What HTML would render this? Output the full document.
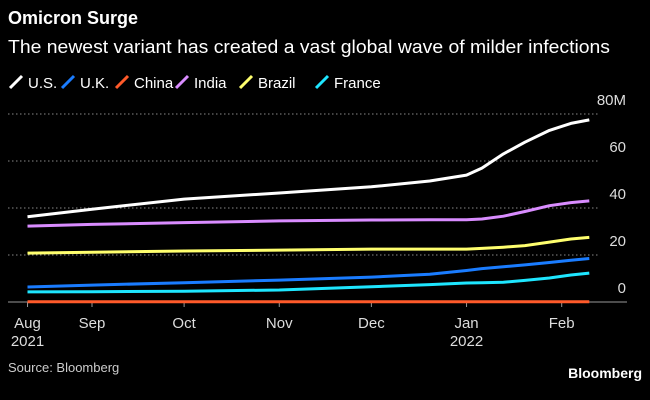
<!DOCTYPE html>
<html><head><meta charset="utf-8"><style>
body{margin:0;background:#000;width:650px;height:400px;overflow:hidden;font-family:"Liberation Sans",sans-serif;color:#fff}
svg{position:absolute;left:0;top:0}
</style></head><body>
<svg width="650" height="400">
<text x="8" y="24" font-size="18" font-weight="bold" fill="#fff">Omicron Surge</text>
<text x="8" y="53" font-size="18" textLength="602" lengthAdjust="spacingAndGlyphs" fill="#fff">The newest variant has created a vast global wave of milder infections</text>
<g id="legend"></g>
<g id="grid"></g>
<g id="xaxis"></g>
<g id="series"></g>
<text x="8" y="372" font-size="13" fill="#ccc">Source: Bloomberg</text>
<text x="642" y="378" font-size="14" font-weight="bold" text-anchor="end" fill="#fff">Bloomberg</text>
</svg>
<script>
const seriesNames=["U.S.","U.K.","China","India","Brazil","France"];
const seriesColors=["#ffffff","#1a7cff","#ff5a2a","#d98cff","#ffff6e","#1ee6ff"];
const days=[10,31,61,92,122,141,153,158,165,172,180,187,193];
const usVals=[36.3,39.5,43.8,46.4,49,51.5,54,57,63,68,73,76,77.5];
const ukVals=[6.4,7.2,8.2,9.3,10.6,11.8,13.4,14.2,15,15.8,16.8,17.8,18.5];
const chinaVals=[0.1,0.1,0.1,0.1,0.1,0.1,0.1,0.1,0.1,0.1,0.1,0.1,0.1];
const indiaVals=[32.3,33,33.8,34.5,34.9,35,35,35.3,36.5,38.5,41,42.3,43];
const brazilVals=[20.8,21.2,21.7,22.1,22.5,22.5,22.5,22.8,23.3,24,25.5,26.8,27.5];
const franceVals=[4.3,4.4,4.6,5.1,6.5,7.4,8.1,8.2,8.4,9.2,10.2,11.5,12.3];
const yTicks=[0,20,40,60,80];
const yTickLabels=["0","20","40","60","80M"];
const xTickDays=[10,31,61,92,122,153,184];
const xTickLabels=["Aug","Sep","Oct","Nov","Dec","Jan","Feb"];
const xTickYears=["2021","","","","","2022",""];
const allVals=[usVals,ukVals,chinaVals,indiaVals,brazilVals,franceVals];
const ns="http://www.w3.org/2000/svg";
const X=d=>92+(d-31)*3.07;
const Y=v=>302-v*47/20;
function mk(t,a,p){const e=document.createElementNS(ns,t);for(const k in a)e.setAttribute(k,a[k]);p.appendChild(e);return e;}
const grid=document.getElementById('grid');
yTicks.forEach((v,i)=>{
  if(v>0){const l=mk('line',{x1:8,x2:598,y1:Y(v),y2:Y(v),stroke:'#888','stroke-width':1,'stroke-dasharray':'1.5,2.5'},grid);
  
  }
  const t=mk('text',{x:626,y:Y(v)-9,'font-size':15,'text-anchor':'end',fill:'#ddd'},grid);
  t.textContent=yTickLabels[i];
  
  
});
const xa=document.getElementById('xaxis');
const ax=mk('line',{x1:8,x2:627,y1:302,y2:302,stroke:'#999','stroke-width':1},xa);


xTickDays.forEach((d,i)=>{
  mk('line',{x1:X(d),x2:X(d),y1:302,y2:307,stroke:'#999'},xa);
  const t=mk('text',{x:X(d),y:328,'font-size':15,'text-anchor':'middle',fill:'#ddd'},xa);
  t.textContent=xTickLabels[i];
  
  
  if(xTickYears[i]){const y=mk('text',{x:X(d),y:346,'font-size':15,'text-anchor':'middle',fill:'#ddd'},xa);
  y.textContent=xTickYears[i];
  
  }
});
const sg=document.getElementById('series');
[2,5,1,4,3,0].forEach(si=>{
  const pts=days.map((d,i)=>X(d).toFixed(1)+','+Y(allVals[si][i]).toFixed(1)).join(' ');
  const p=mk('polyline',{points:pts,fill:'none',stroke:seriesColors[si],'stroke-width':3,'stroke-linejoin':'round'},sg);
  
  
});
const lg=document.getElementById('legend');
const lx=[10,62,116,176,240,316];
seriesNames.forEach((n,i)=>{
  const g=mk('g',{},lg);
  
  
  mk('line',{x1:lx[i],x2:lx[i]+12,y1:88,y2:76,stroke:seriesColors[i],'stroke-width':3},g);
  const t=mk('text',{x:lx[i]+18,y:88,'font-size':15,fill:'#fff'},g);
  t.textContent=n;
});
</script>
</body></html>
